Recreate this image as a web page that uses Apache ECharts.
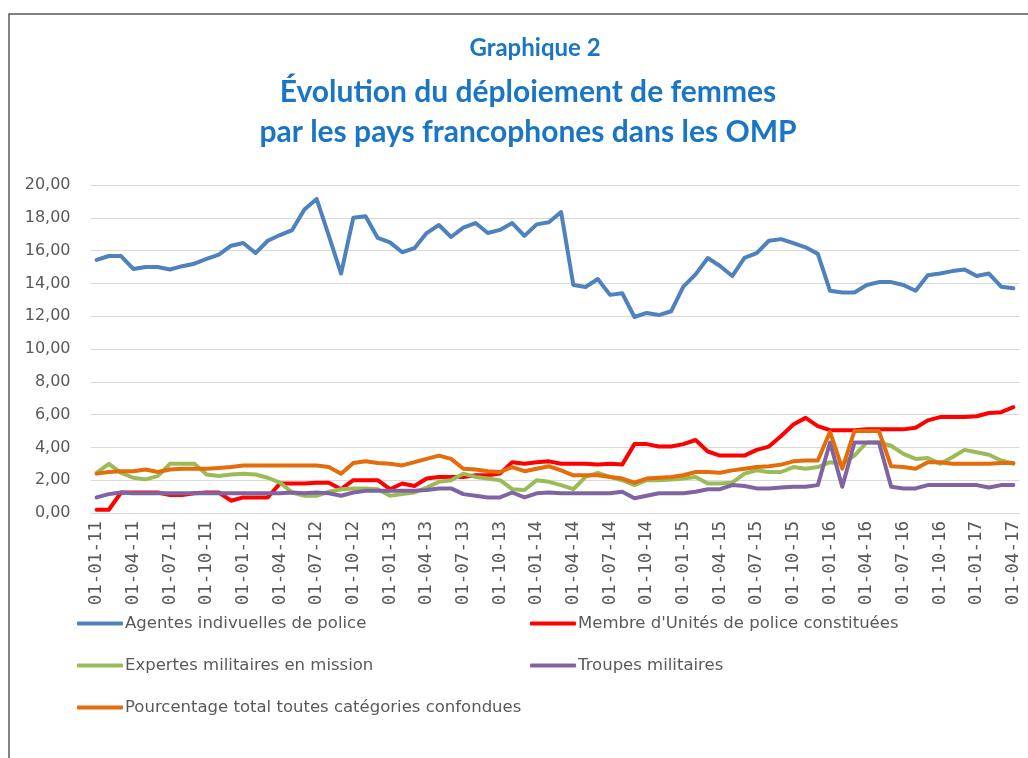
<!DOCTYPE html>
<html>
<head>
<meta charset="utf-8">
<script src="https://cdn.jsdelivr.net/npm/echarts@6/dist/echarts.min.js"></script>
<style>
html,body{margin:0;padding:0;background:#fff;}
#c{width:1028px;height:758px;}
</style>
</head>
<body>
<div id="c"></div>
<script>
const categories = [
"01-01-11","01-02-11","01-03-11","01-04-11","01-05-11","01-06-11","01-07-11","01-08-11","01-09-11","01-10-11","01-11-11","01-12-11",
"01-01-12","01-02-12","01-03-12","01-04-12","01-05-12","01-06-12","01-07-12","01-08-12","01-09-12","01-10-12","01-11-12","01-12-12",
"01-01-13","01-02-13","01-03-13","01-04-13","01-05-13","01-06-13","01-07-13","01-08-13","01-09-13","01-10-13","01-11-13","01-12-13",
"01-01-14","01-02-14","01-03-14","01-04-14","01-05-14","01-06-14","01-07-14","01-08-14","01-09-14","01-10-14","01-11-14","01-12-14",
"01-01-15","01-02-15","01-03-15","01-04-15","01-05-15","01-06-15","01-07-15","01-08-15","01-09-15","01-10-15","01-11-15","01-12-15",
"01-01-16","01-02-16","01-03-16","01-04-16","01-05-16","01-06-16","01-07-16","01-08-16","01-09-16","01-10-16","01-11-16","01-12-16",
"01-01-17","01-02-17","01-03-17","01-04-17"];

const seriesNames = [
"Agentes indivuelles de police",
"Membre d'Unités de police constituées",
"Expertes militaires en mission",
"Troupes militaires",
"Pourcentage total toutes catégories confondues"];

const agentesPolice = [15.43,15.67,15.67,14.88,15.0,15.0,14.85,15.05,15.2,15.5,
15.75,16.3,16.46,15.85,16.6,16.95,17.25,18.5,19.15,16.9,
14.6,18.0,18.1,16.77,16.5,15.9,16.15,17.07,17.56,16.83,
17.4,17.68,17.07,17.26,17.68,16.9,17.6,17.73,18.35,13.9,
13.78,14.27,13.3,13.4,11.95,12.2,12.07,12.3,13.8,14.55,
15.55,15.06,14.45,15.55,15.85,16.6,16.7,16.46,16.2,15.8,
13.55,13.45,13.45,13.9,14.08,14.08,13.9,13.55,14.5,14.6,
14.75,14.85,14.45,14.6,13.8,13.7];

const unitesPolice = [0.2,0.2,1.25,1.25,1.25,1.25,1.1,1.1,1.2,1.25,
1.25,0.75,0.95,0.95,0.95,1.8,1.8,1.8,1.85,1.85,
1.45,2.0,2.0,2.0,1.45,1.8,1.65,2.1,2.2,2.2,
2.2,2.3,2.3,2.4,3.1,3.0,3.1,3.15,3.0,3.0,
3.0,2.95,3.0,2.95,4.2,4.2,4.05,4.05,4.2,4.45,
3.75,3.5,3.5,3.5,3.85,4.05,4.7,5.4,5.8,5.3,
5.05,5.05,5.05,5.1,5.1,5.1,5.1,5.2,5.65,5.85,
5.85,5.85,5.9,6.1,6.15,6.45];

const expertesMilitaires = [2.45,3.0,2.45,2.15,2.05,2.25,3.0,3.0,3.0,2.35,
2.25,2.35,2.4,2.35,2.15,1.85,1.25,1.05,1.05,1.3,
1.45,1.5,1.5,1.45,1.05,1.15,1.25,1.55,1.9,2.0,
2.4,2.2,2.1,2.0,1.45,1.4,2.0,1.9,1.7,1.45,
2.2,2.45,2.2,2.0,1.7,2.0,2.0,2.05,2.1,2.2,
1.8,1.8,1.85,2.4,2.6,2.5,2.5,2.8,2.7,2.8,
3.1,3.0,3.5,4.3,4.3,4.1,3.6,3.3,3.35,3.0,
3.4,3.85,3.7,3.55,3.2,3.0];

const troupesMilitaires = [0.95,1.15,1.25,1.2,1.2,1.2,1.2,1.2,1.2,1.2,
1.2,1.2,1.2,1.2,1.2,1.2,1.25,1.2,1.25,1.2,
1.05,1.25,1.35,1.35,1.35,1.35,1.35,1.4,1.5,1.5,
1.15,1.05,0.95,0.95,1.25,0.95,1.2,1.25,1.2,1.2,
1.2,1.2,1.2,1.3,0.9,1.05,1.2,1.2,1.2,1.3,
1.45,1.45,1.7,1.65,1.5,1.5,1.55,1.6,1.6,1.7,
4.3,1.6,4.3,4.3,4.3,1.6,1.5,1.5,1.7,1.7,
1.7,1.7,1.7,1.55,1.7,1.7];

const pourcentageTotal = [2.4,2.5,2.55,2.55,2.65,2.5,2.65,2.7,2.7,2.7,
2.75,2.8,2.9,2.9,2.9,2.9,2.9,2.9,2.9,2.8,
2.4,3.05,3.15,3.05,3.0,2.9,3.1,3.3,3.5,3.3,
2.7,2.65,2.55,2.5,2.8,2.55,2.7,2.85,2.6,2.3,
2.3,2.3,2.2,2.1,1.85,2.1,2.15,2.2,2.3,2.5,
2.5,2.45,2.6,2.7,2.8,2.85,2.95,3.15,3.2,3.2,
4.95,2.7,5.0,5.0,5.0,2.85,2.8,2.7,3.1,3.1,
3.0,3.0,3.0,3.0,3.05,3.05];

const titleSmall = 'Graphique 2';
const titleLines = ['Évolution du déploiement de femmes', 'par les pays francophones dans les OMP'];

const colors = ['#4f81bd','#ff0000','#9bbb59','#8064a2','#e46c0a'];
const allData = [agentesPolice, unitesPolice, expertesMilitaires, troupesMilitaires, pourcentageTotal];

const legendPos = [[72,610],[525,610],[72,652],[525,652],[72,694]];
const txt = '#595959';
const blue = '#1a75c4';
const font = 'Lato, "Open Sans", sans-serif';
const bodyFont = '"DejaVu Sans", sans-serif';
const monoFont = '"DejaVu Sans Mono", "Liberation Mono", monospace';

const chart = echarts.init(document.getElementById('c'), null, {renderer:'canvas'});
chart.setOption({
  animation:false,
  backgroundColor:'#fff',
  graphic:[
    {type:'rect', shape:{x:9, y:14, width:1030, height:760}, style:{fill:'none', stroke:'#595959', lineWidth:1.5}, silent:true},
    {type:'text', x:535, y:48, style:{text:titleSmall, fill:blue, font:'bold 24px '+font, align:'center', verticalAlign:'middle'}},
    {type:'text', x:528, y:92, style:{text:titleLines[0], fill:blue, font:'bold 30px '+font, align:'center', verticalAlign:'middle'}},
    {type:'text', x:528, y:132, style:{text:titleLines[1], fill:blue, font:'bold 30px '+font, align:'center', verticalAlign:'middle'}}
  ],
  legend: seriesNames.map((n,i)=>({
    data:[n], left:legendPos[i][0], top:legendPos[i][1], icon:'roundRect', itemWidth:46, itemHeight:4, itemGap:0,
    textStyle:{fontFamily:bodyFont, fontSize:16.5, color:txt, padding:[0,0,0,-3]}
  })),
  grid:{left:90.5, right:8.5, top:185, bottom:245},
  xAxis:{
    type:'category', data:categories, boundaryGap:true,
    axisLine:{lineStyle:{color:'#d9d9d9', width:1}},
    axisTick:{interval:2, length:6, lineStyle:{color:'#d9d9d9'}},
    axisLabel:{interval:2, rotate:90, fontFamily:monoFont, fontSize:17.5, color:txt, margin:8}
  },
  yAxis:{
    type:'value', min:0, max:20, interval:2,
    axisLine:{show:false}, axisTick:{show:false},
    splitLine:{lineStyle:{color:'#d9d9d9', width:1}},
    axisLabel:{fontFamily:bodyFont, fontSize:16, color:txt, margin:20, formatter:v=>v.toFixed(2).replace('.',',')}
  },
  series: seriesNames.map((n,i)=>({
    name:n, type:'line', data:allData[i], showSymbol:false, symbol:'none',
    lineStyle:{color:colors[i], width:4, cap:'round', join:'round'}, itemStyle:{color:colors[i]}
  }))
});
</script>
</body>
</html>
